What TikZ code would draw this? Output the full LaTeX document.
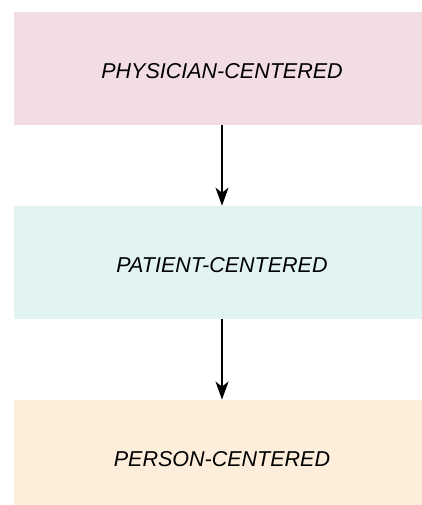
\documentclass[tikz,border=0pt]{standalone}
\usepackage{fontspec}
\setmainfont{Liberation Sans}
\usetikzlibrary{positioning,arrows.meta}

\definecolor{pinkfill}{RGB}{243,221,228}
\definecolor{tealfill}{RGB}{225,244,243}
\definecolor{peachfill}{RGB}{253,237,219}

\begin{document}
\begin{tikzpicture}[
    box/.style={minimum width=416pt, minimum height=113pt, inner sep=0pt,
                text height=20.4pt, text depth=0pt,
                font=\fontsize{21.5}{26}\selectfont\itshape},
    flow/.style={line width=2pt, -{Stealth[length=18pt,width=13pt,inset=5pt]}},
    node distance=80.5pt
]
    \useasboundingbox (0pt,0pt) rectangle (422pt,-505pt);
    \node[box, fill=pinkfill] (physician) at (222pt,-68.5pt) {PHYSICIAN-CENTERED};
    \node[box, fill=tealfill, below=of physician] (patient) {PATIENT-CENTERED};
    \node[box, fill=peachfill, below=of patient] (person) {PERSON-CENTERED};
    \draw[flow] (physician) -- (patient);
    \draw[flow] (patient) -- (person);
\end{tikzpicture}
\end{document}
